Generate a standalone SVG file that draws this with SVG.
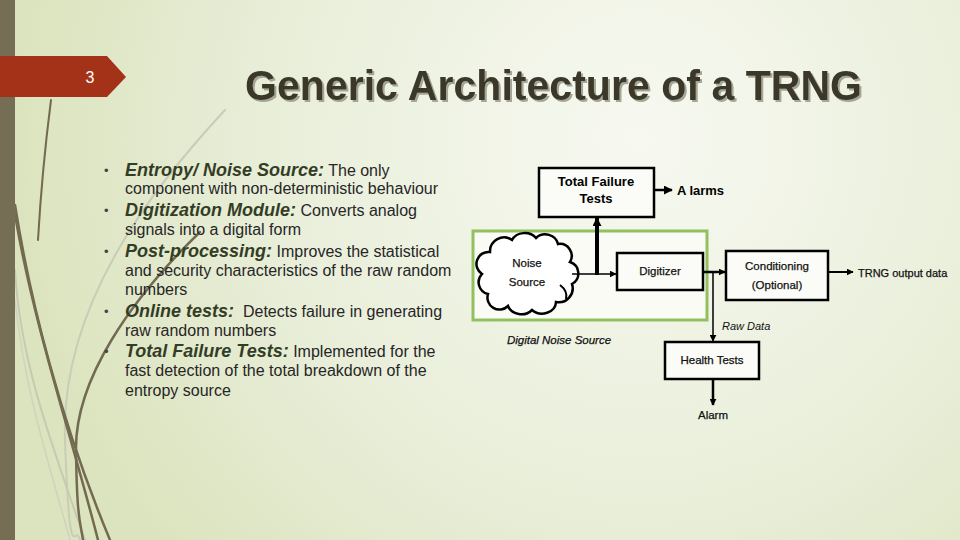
<svg xmlns="http://www.w3.org/2000/svg" width="960" height="540" viewBox="0 0 960 540">
<defs>
  <radialGradient id="bg" cx="640" cy="140" r="620" gradientUnits="userSpaceOnUse">
    <stop offset="0" stop-color="#f7f9f1"/>
    <stop offset="0.6" stop-color="#e9eed9"/>
    <stop offset="1" stop-color="#dce4bf"/>
  </radialGradient>
  <filter id="shadow" x="-5%" y="-20%" width="110%" height="140%">
    <feDropShadow dx="2" dy="2" stdDeviation="0.6" flood-color="#9c9d8c" flood-opacity="0.9"/>
  </filter>
  <marker id="ah" viewBox="0 0 10 10" refX="9" refY="5" markerWidth="7" markerHeight="7" markerUnits="userSpaceOnUse" orient="auto">
    <path d="M0,0 L10,5 L0,10 z" fill="#000"/>
  </marker>
  <marker id="ahb" viewBox="0 0 10 10" refX="9" refY="5" markerWidth="9" markerHeight="9" markerUnits="userSpaceOnUse" orient="auto">
    <path d="M0,0 L10,5 L0,10 z" fill="#000"/>
  </marker>
  <style>
    .body{font-family:"Liberation Sans",Arial,sans-serif;font-size:16px;fill:#262626}
    .head{font-family:"Liberation Sans",Arial,sans-serif;font-size:18px;font-weight:bold;font-style:italic;fill:#333d26}
    .bul{font-family:"Liberation Sans",Arial,sans-serif;font-size:13px;fill:#444}
    .box{fill:#fbfcf7;stroke:#000;stroke-width:2.5}
    .lbl{font-family:"Liberation Sans",Arial,sans-serif;font-size:11.5px;fill:#111;stroke:#111;stroke-width:0.25;text-anchor:middle}
    .blbl{font-family:"Liberation Sans",Arial,sans-serif;font-size:13px;font-weight:bold;fill:#000;text-anchor:middle}
    .conn{stroke:#000;fill:none}
    .deco{fill:none;stroke-linecap:round}
  </style>
</defs>
<rect width="960" height="540" fill="url(#bg)"/>
<g id="decoration">
  <path class="deco" d="M225,110 C160,180 60,300 65,440 S75,520 80,540" stroke="#c9ccb6" stroke-width="2"/>
  <path class="deco" d="M15,270 C20,360 50,440 85,540" stroke="#c6cab2" stroke-width="2"/>
  <path class="deco" d="M15,300 C25,390 45,450 70,540" stroke="#cfd3bd" stroke-width="1.5"/>
  <path class="deco" d="M51,100 Q42,170 38,240" stroke="#736a52" stroke-width="2"/>
  <path class="deco" d="M15,205 C30,300 60,420 110,540" stroke="#736a52" stroke-width="2.5"/>
  <path class="deco" d="M15,215 C35,330 70,430 98,540" stroke="#736a52" stroke-width="2.5"/>
  <path class="deco" d="M200,232 C130,300 75,380 76,450 S80,520 83,540" stroke="#736a52" stroke-width="2.5"/>
</g>
<rect x="0" y="0" width="15" height="540" fill="#766d55"/>
<g id="slide-number">
  <path d="M0,56 L107,56 L126,77 L107,97 L0,97 z" fill="#a33219"/>
  <text x="90" y="83" font-family="Liberation Sans,Arial,sans-serif" font-size="16" fill="#fff" text-anchor="middle">3</text>
</g>
<g id="title" font-family="Liberation Sans,Arial,sans-serif" font-size="43" font-weight="bold" filter="url(#shadow)">
  <text x="245" y="100" fill="#3a392b" textLength="617" lengthAdjust="spacingAndGlyphs">Generic Architecture of a TRNG</text>
</g>
<g id="bullets">
  <text class="bul" x="104" y="175">•</text>
  <text x="125" y="176"><tspan class="head">Entropy/ Noise Source:</tspan><tspan class="body"> The only</tspan></text>
  <text class="body" x="125" y="194">component with non-deterministic behaviour</text>
  <text class="bul" x="104" y="215">•</text>
  <text x="125" y="216"><tspan class="head">Digitization Module:</tspan><tspan class="body"> Converts analog</tspan></text>
  <text class="body" x="125" y="235">signals into a digital form</text>
  <text class="bul" x="104" y="256">•</text>
  <text x="125" y="257"><tspan class="head">Post-processing:</tspan><tspan class="body"> Improves the statistical</tspan></text>
  <text class="body" x="125" y="276">and security characteristics of the raw random</text>
  <text class="body" x="125" y="295">numbers</text>
  <text class="bul" x="104" y="316">•</text>
  <text x="125" y="317" xml:space="preserve"><tspan class="head">Online tests:</tspan><tspan class="body">  Detects failure in generating</tspan></text>
  <text class="body" x="125" y="336">raw random numbers</text>
  <text class="bul" x="104" y="356">•</text>
  <text x="125" y="357"><tspan class="head">Total Failure Tests:</tspan><tspan class="body"> Implemented for the</tspan></text>
  <text class="body" x="125" y="376">fast detection of the total breakdown of the</text>
  <text class="body" x="125" y="396">entropy source</text>
</g>
<g id="digital-noise-source">
  <rect x="473" y="231" width="234" height="89" fill="#fafbf5" stroke="#92c05e" stroke-width="3"/>
  <text class="lbl" x="559" y="344" font-style="italic">Digital Noise Source</text>
</g>
<g id="noise-source">
  <path d="M490,252 a14,14 0 0,1 22,-12 a14,12 0 0,1 24,-2 a13,12 0 0,1 22,6 a12,12 0 0,1 12,18 a12,12 0 0,1 2,22 a14,14 0 0,1 -16,18 a14,12 0 0,1 -24,8 a14,12 0 0,1 -24,-4 a12,12 0 0,1 -20,-12 a12,12 0 0,1 -6,-20 a12,12 0 0,1 8,-22 z" fill="#fff" stroke="#000" stroke-width="2.5"/>
  <path d="M560,285 q8,6 6,14" fill="none" stroke="#000" stroke-width="2"/>
  <text class="lbl" x="527" y="267">Noise</text>
  <text class="lbl" x="527" y="286">Source</text>
</g>
<g id="total-failure-tests">
  <rect class="box" x="539" y="168" width="115" height="49" stroke-width="3"/>
  <text class="blbl" x="596" y="186">Total Failure</text>
  <text class="blbl" x="596" y="203">Tests</text>
</g>
<g id="alarms">
  <text x="677" y="195" font-family="Liberation Sans,Arial,sans-serif" font-size="13" font-weight="bold" fill="#000">A<tspan dx="3">larms</tspan></text>
</g>
<g id="digitizer">
  <rect class="box" x="617" y="253" width="86" height="37"/>
  <text class="lbl" x="660" y="275">Digitizer</text>
</g>
<g id="conditioning">
  <rect class="box" x="726" y="251" width="102" height="49" stroke-width="3"/>
  <text class="lbl" x="777" y="270">Conditioning</text>
  <text class="lbl" x="777" y="289">(Optional)</text>
</g>
<g id="trng-output">
  <text x="858" y="277" font-family="Liberation Sans,Arial,sans-serif" font-size="11" fill="#111" stroke="#111" stroke-width="0.25">TRNG output data</text>
</g>
<g id="health-tests">
  <rect class="box" x="665" y="342" width="94" height="37"/>
  <text class="lbl" x="712" y="364">Health Tests</text>
</g>
<g id="alarm">
  <text class="lbl" x="713" y="419" font-size="12.5">Alarm</text>
</g>
<g id="raw-data">
  <text x="722" y="330" font-family="Liberation Sans,Arial,sans-serif" font-size="11" font-style="italic" fill="#111">Raw Data</text>
</g>
<g id="connectors">
  <line class="conn" x1="572" y1="274" x2="616" y2="274" stroke-width="1.5" marker-end="url(#ah)"/>
  <line class="conn" x1="597" y1="275" x2="597" y2="218" stroke-width="4" marker-end="url(#ahb)"/>
  <line class="conn" x1="654" y1="190" x2="672" y2="190" stroke-width="2.5" marker-end="url(#ahb)"/>
  <line class="conn" x1="703" y1="272" x2="725" y2="272" stroke-width="2.5" marker-end="url(#ah)"/>
  <line class="conn" x1="713" y1="272" x2="713" y2="341" stroke-width="1.5" marker-end="url(#ah)"/>
  <line class="conn" x1="828" y1="272" x2="853" y2="272" stroke-width="2" marker-end="url(#ah)"/>
  <line class="conn" x1="713" y1="379" x2="713" y2="405" stroke-width="2.5" marker-end="url(#ah)"/>
</g>
</svg>
